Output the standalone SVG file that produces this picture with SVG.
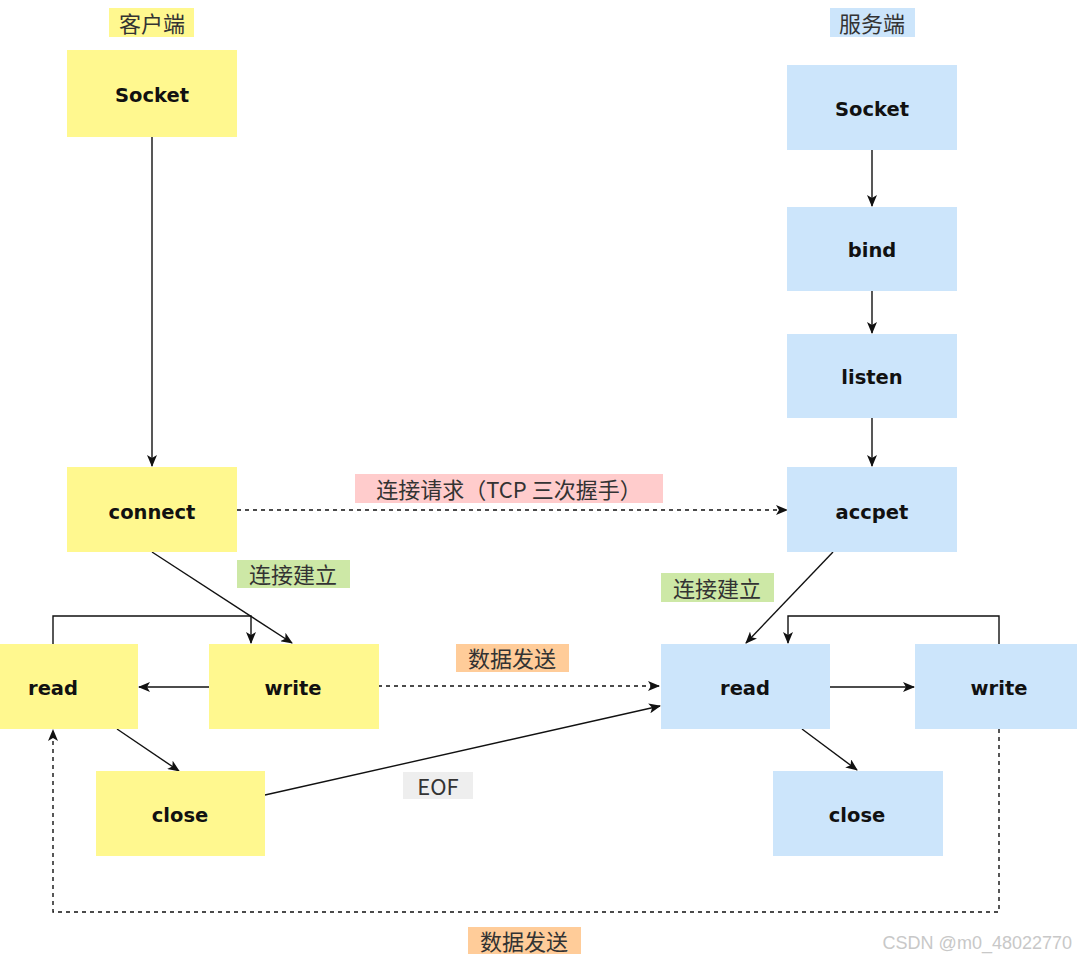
<svg xmlns="http://www.w3.org/2000/svg" width="1077" height="961" viewBox="0 0 1077 961">
<defs>
<style>
.y{fill:#fff88f}
.b{fill:#cce5fb}
.nt{font-family:"DejaVu Sans","Liberation Sans",sans-serif;font-weight:bold;font-size:19.5px;fill:#111;text-anchor:middle;dominant-baseline:central}
.lt{font-family:"Noto Sans CJK SC","Liberation Sans",sans-serif;font-size:22px;fill:#333;text-anchor:middle;dominant-baseline:central}
.c{fill:none;stroke:#111;stroke-width:1.4}
.d{fill:none;stroke:#111;stroke-width:1.4;stroke-dasharray:4 4}
</style>
<marker id="a" viewBox="0 0 12 10" refX="11" refY="5" markerWidth="12" markerHeight="10" markerUnits="userSpaceOnUse" orient="auto">
<path d="M0,0 L12,5 L0,10 L3,5 Z" fill="#111"/>
</marker>
</defs>
<rect width="1077" height="961" fill="#fff"/>

<g id="label-client"><rect x="109" y="8" width="85" height="29" class="y"/><text x="152" y="22" class="lt">客户端</text></g>
<g id="label-server"><rect x="830" y="8" width="85" height="29" class="b"/><text x="872" y="22" class="lt">服务端</text></g>

<g id="connectors">
<path class="c" d="M152,137 L152,466" marker-end="url(#a)"/>
<path class="c" d="M872,150 L872,206" marker-end="url(#a)"/>
<path class="c" d="M872,291 L872,333" marker-end="url(#a)"/>
<path class="c" d="M872,418 L872,466" marker-end="url(#a)"/>
<path class="d" d="M237,510 L787,510" marker-end="url(#a)"/>
<path class="c" d="M152,552 L292,643" marker-end="url(#a)"/>
<path class="c" d="M53,644 L53,616 L251,616 L251,643" marker-end="url(#a)"/>
<path class="c" d="M209,687 L139,687" marker-end="url(#a)"/>
<path class="c" d="M117,729 L179,771" marker-end="url(#a)"/>
<path class="c" d="M265,795 L660,706" marker-end="url(#a)"/>
<path class="d" d="M378,686 L659,686" marker-end="url(#a)"/>
<path class="c" d="M833,552 L746,643" marker-end="url(#a)"/>
<path class="c" d="M999,644 L999,616 L788,616 L788,643" marker-end="url(#a)"/>
<path class="c" d="M830,687 L914,687" marker-end="url(#a)"/>
<path class="c" d="M802,729 L857,770" marker-end="url(#a)"/>
<path class="d" d="M999,729 L999,912 L53,912 L53,730" marker-end="url(#a)"/>
</g>

<g id="label-tcp"><rect x="355" y="474" width="308" height="29" fill="#ffcccc"/><text x="509" y="488" class="lt">连接请求（TCP 三次握手）</text></g>
<g id="label-est-client"><rect x="237" y="560" width="113" height="28" fill="#cde8a6"/><text x="293" y="573" class="lt">连接建立</text></g>
<g id="label-est-server"><rect x="661" y="573" width="113" height="29" fill="#cde8a6"/><text x="717" y="587" class="lt">连接建立</text></g>
<g id="label-data1"><rect x="456" y="644" width="113" height="28" fill="#ffcc99"/><text x="512" y="657" class="lt">数据发送</text></g>
<g id="label-eof"><rect x="403" y="772" width="70" height="27" fill="#eeeeee"/><text x="438" y="785" class="lt">EOF</text></g>
<g id="label-data2"><rect x="468" y="927" width="113" height="27" fill="#ffcc99"/><text x="524" y="940" class="lt">数据发送</text></g>

<g id="c-socket"><rect x="67" y="50" width="170" height="87" class="y"/><text x="152" y="95" class="nt">Socket</text></g>
<g id="c-connect"><rect x="67" y="467" width="170" height="85" class="y"/><text x="152" y="512" class="nt">connect</text></g>
<g id="c-read"><rect x="-32" y="644" width="170" height="85" class="y"/><text x="53" y="688" class="nt">read</text></g>
<g id="c-write"><rect x="209" y="644" width="170" height="85" class="y"/><text x="293" y="688" class="nt">write</text></g>
<g id="c-close"><rect x="96" y="771" width="169" height="85" class="y"/><text x="180" y="815" class="nt">close</text></g>

<g id="s-socket"><rect x="787" y="65" width="170" height="85" class="b"/><text x="872" y="109" class="nt">Socket</text></g>
<g id="s-bind"><rect x="787" y="207" width="170" height="84" class="b"/><text x="872" y="250" class="nt">bind</text></g>
<g id="s-listen"><rect x="787" y="334" width="170" height="84" class="b"/><text x="872" y="377" class="nt">listen</text></g>
<g id="s-accpet"><rect x="787" y="467" width="170" height="85" class="b"/><text x="872" y="512" class="nt">accpet</text></g>
<g id="s-read"><rect x="661" y="644" width="169" height="85" class="b"/><text x="745" y="688" class="nt">read</text></g>
<g id="s-write"><rect x="915" y="644" width="170" height="85" class="b"/><text x="999" y="688" class="nt">write</text></g>
<g id="s-close"><rect x="773" y="771" width="170" height="85" class="b"/><text x="857" y="815" class="nt">close</text></g>

<text x="1072" y="943" font-family="Liberation Sans, sans-serif" font-size="18" fill="#c8c8c8" text-anchor="end" dominant-baseline="central">CSDN @m0_48022770</text>
</svg>
